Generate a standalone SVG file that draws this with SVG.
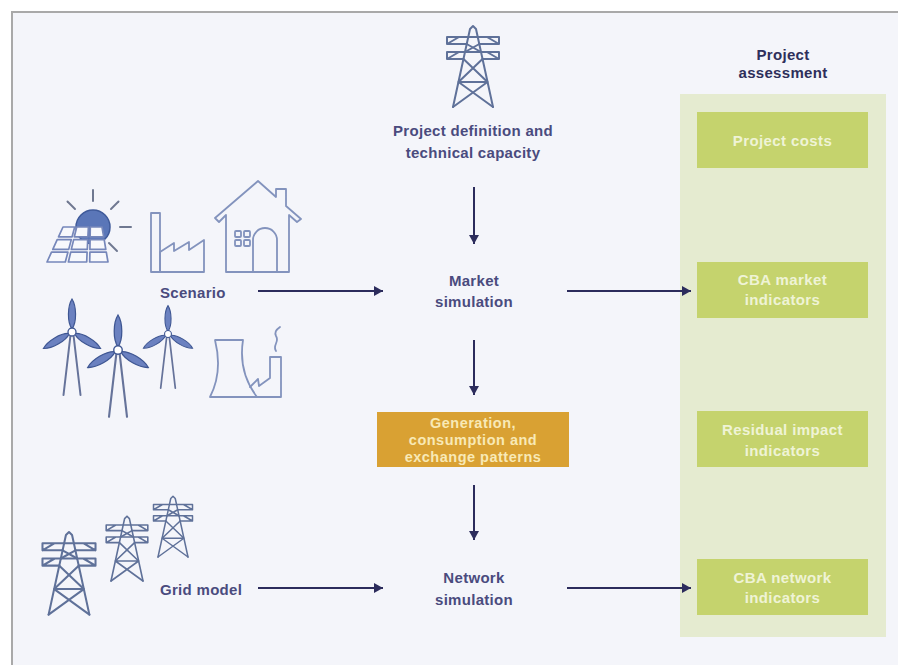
<svg xmlns="http://www.w3.org/2000/svg" xmlns:xlink="http://www.w3.org/1999/xlink" width="898" height="665" viewBox="0 0 898 665">
  <style>
    .lbl { font-family: "Liberation Sans", Arial, sans-serif; font-weight: bold; font-size: 15px; letter-spacing: 0.3px; fill: #4a4b7e; text-anchor: middle; }
    .head { fill: #2e2f5b; }
    .boxtxt { fill: #eff3d6; letter-spacing: 0.4px; }
    .gentxt { fill: #f8e9b6; font-size: 14.5px; letter-spacing: 0.5px; }
    .side { text-anchor: start; }
    .conn { stroke: #2c2c5c; stroke-width: 2; fill: none; marker-end: url(#arrow); }
    .pyl { stroke: #5f7199; stroke-width: 2; fill: none; stroke-linejoin: round; stroke-linecap: round; }
    .ico { stroke: #8393bd; stroke-width: 1.8; fill: none; stroke-linejoin: round; stroke-linecap: round; }
    .cell { stroke: #7687ba; stroke-width: 1.7; fill: #f7f8fc; stroke-linejoin: round; }
    .ray { stroke: #6f7890; stroke-width: 2; stroke-linecap: round; }
    .blade { fill: #6b81c0; stroke: #3e5692; stroke-width: 1.2; }
    .hub { fill: #ffffff; stroke: #3e5692; stroke-width: 1.3; }
    .leg { stroke: #66739a; stroke-width: 2; stroke-linecap: round; }
    .green { fill: #c5d36d; }
  </style>
  <defs>
    <marker id="arrow" markerUnits="userSpaceOnUse" markerWidth="10" markerHeight="10" refX="9" refY="5" orient="auto">
      <path d="M0,0 L9,5 L0,10 Z" fill="#2c2c5c"/>
    </marker>
    <!-- lattice transmission tower, apex at 0,0, height 80 -->
    <g id="pylon">
      <path class="pyl" d="M-20,80 L-3,2 L0,-1 L3,2 L20,80"/>
      <path class="pyl" d="M-26,10 H26 M-26,10 V17 H-6.3 M26,10 V17 H6.3 M-26,17 L-14,10 M26,17 L14,10"/>
      <path class="pyl" d="M-26,25 H26 M-26,25 V32 H-9.5 M26,25 V32 H9.5 M-26,32 L-14,25 M26,32 L14,25"/>
      <path class="pyl" d="M-9.5,32 L14.5,55 M9.5,32 L-14.5,55 M-14.5,55 H14.5 M-14.5,55 L20,80 M14.5,55 L-20,80 M-6.3,17 L8,25 M6.3,17 L-8,25"/>
    </g>
    <!-- wind turbine, hub at 0,0 -->
    <path id="blade" class="blade" d="M0,-3 C-5,-10 -4.5,-26 0,-33 C4.5,-26 5,-10 0,-3 Z"/>
    <g id="turbine">
      <line class="leg" x1="-1.5" y1="3" x2="-8.5" y2="63"/>
      <line class="leg" x1="1.5" y1="3" x2="8.5" y2="63"/>
      <use xlink:href="#blade" href="#blade"/>
      <use xlink:href="#blade" href="#blade" transform="rotate(120)"/>
      <use xlink:href="#blade" href="#blade" transform="rotate(240)"/>
      <circle class="hub" r="4"/>
    </g>
  </defs>

  <!-- page frame -->
  <rect x="0" y="0" width="898" height="665" fill="#ffffff"/>
  <rect x="12" y="12" width="900" height="700" fill="#f4f5fa" stroke="#a9a9a9" stroke-width="2"/>

  <!-- assessment column -->
  <g id="assessment">
    <rect x="680" y="94" width="206" height="543" fill="#e5ebd0"/>
    <text class="lbl head" x="783" y="60">Project</text>
    <text class="lbl head" x="783" y="78">assessment</text>
  </g>
  <g id="project-costs">
    <rect class="green" x="697" y="112" width="171" height="56"/>
    <text class="lbl boxtxt" x="782.5" y="146">Project costs</text>
  </g>
  <g id="cba-market">
    <rect class="green" x="697" y="262" width="171" height="56"/>
    <text class="lbl boxtxt" x="782.5" y="285">CBA market</text>
    <text class="lbl boxtxt" x="782.5" y="305">indicators</text>
  </g>
  <g id="residual-impact">
    <rect class="green" x="697" y="411" width="171" height="56"/>
    <text class="lbl boxtxt" x="782.5" y="435">Residual impact</text>
    <text class="lbl boxtxt" x="782.5" y="456">indicators</text>
  </g>
  <g id="cba-network">
    <rect class="green" x="697" y="559" width="171" height="56"/>
    <text class="lbl boxtxt" x="782.5" y="583">CBA network</text>
    <text class="lbl boxtxt" x="782.5" y="603">indicators</text>
  </g>

  <!-- project definition -->
  <g id="project-definition">
    <use xlink:href="#pylon" href="#pylon" transform="translate(473,27)"/>
    <text class="lbl" x="473" y="136">Project definition and</text>
    <text class="lbl" x="473" y="158">technical capacity</text>
  </g>

  <g id="market-simulation">
    <text class="lbl" x="474" y="286">Market</text>
    <text class="lbl" x="474" y="307">simulation</text>
  </g>

  <g id="patterns">
    <rect x="377" y="412" width="192" height="55" fill="#d9a133"/>
    <text class="lbl gentxt" x="473" y="428">Generation,</text>
    <text class="lbl gentxt" x="473" y="445">consumption and</text>
    <text class="lbl gentxt" x="473" y="462">exchange patterns</text>
  </g>

  <g id="network-simulation">
    <text class="lbl" x="474" y="583">Network</text>
    <text class="lbl" x="474" y="605">simulation</text>
  </g>

  <!-- scenario: generation and demand icons -->
  <g id="scenario">
    <circle cx="93" cy="227" r="17" fill="#5a76b8" stroke="#3f5a9a" stroke-width="1.5"/>
    <line class="ray" x1="93" y1="201" x2="93" y2="190"/>
    <line class="ray" x1="75" y1="209" x2="67.5" y2="201.5"/>
    <line class="ray" x1="111" y1="209" x2="118.5" y2="201.5"/>
    <line class="ray" x1="120" y1="227" x2="131" y2="227"/>
    <line class="ray" x1="109" y1="243" x2="117" y2="251"/>
    <polygon class="cell" points="63,227 74.7,227 72.1,236.8 58.5,236.8"/>
    <polygon class="cell" points="76.7,227 88.4,227 87.9,236.8 74.3,236.8"/>
    <polygon class="cell" points="90.3,227 102,227 103.7,236.8 90.1,236.8"/>
    <polygon class="cell" points="57.2,239.6 71.3,239.6 68.7,249.4 52.8,249.4"/>
    <polygon class="cell" points="73.7,239.6 87.7,239.6 87.3,249.4 71.3,249.4"/>
    <polygon class="cell" points="90.1,239.6 104.2,239.6 105.8,249.4 89.9,249.4"/>
    <polygon class="cell" points="51.5,252.2 67.9,252.2 65.3,262 47,262"/>
    <polygon class="cell" points="70.7,252.2 87.1,252.2 86.7,262 68.4,262"/>
    <polygon class="cell" points="89.9,252.2 106.3,252.2 108,262 89.7,262"/>

    <!-- factory -->
    <rect class="ico" x="151" y="213" width="9" height="59"/>
    <path class="ico" d="M160,272 V252 L174,243 V251 L189,242 V250 L204,240 V272 Z"/>

    <!-- house -->
    <path class="ico" d="M226,272 V215 L219,222 L215,218 L258,181 L276,197 V189 H286 V206 L301,219 L297,222 L289,215 V272 Z"/>
    <path class="ico" d="M253,272 V240 A12,12 0 0 1 277,240 V272"/>
    <rect class="ico" x="235" y="231" width="6" height="6" rx="1"/>
    <rect class="ico" x="244" y="231" width="6" height="6" rx="1"/>
    <rect class="ico" x="235" y="240" width="6" height="6" rx="1"/>
    <rect class="ico" x="244" y="240" width="6" height="6" rx="1"/>

    <text class="lbl side" x="160" y="298">Scenario</text>

    <!-- wind turbines -->
    <use xlink:href="#turbine" href="#turbine" transform="translate(72,332)"/>
    <use xlink:href="#turbine" href="#turbine" transform="translate(118,350) scale(1.06)"/>
    <use xlink:href="#turbine" href="#turbine" transform="translate(168,334) scale(0.86)"/>

    <!-- thermal plant -->
    <path class="ico" d="M215,340 H243 Q238,372 257,397 H210 Q223,372 215,340 Z"/>
    <path class="ico" d="M250,387 L258,379 L259,386 L270,378 V357 H281 V397 H257"/>
    <path class="ico" d="M276,351 C272,345 280,342 276,336 C274,332 277,329 280,327" stroke-width="1.4"/>
  </g>

  <!-- grid model -->
  <g id="grid-model">
    <use xlink:href="#pylon" href="#pylon" transform="translate(69,533) scale(1.02)"/>
    <use xlink:href="#pylon" href="#pylon" transform="translate(127,517) scale(0.8)"/>
    <use xlink:href="#pylon" href="#pylon" transform="translate(173,497) scale(0.75)"/>
    <text class="lbl side" x="160" y="595">Grid model</text>
  </g>

  <!-- flow connectors -->
  <g id="connectors">
    <line class="conn" x1="474" y1="187" x2="474" y2="244"/>
    <line class="conn" x1="474" y1="340" x2="474" y2="395"/>
    <line class="conn" x1="474" y1="485" x2="474" y2="540"/>
    <line class="conn" x1="258" y1="291" x2="383" y2="291"/>
    <line class="conn" x1="567" y1="291" x2="691" y2="291"/>
    <line class="conn" x1="258" y1="588" x2="383" y2="588"/>
    <line class="conn" x1="567" y1="588" x2="691" y2="588"/>
  </g>
</svg>
